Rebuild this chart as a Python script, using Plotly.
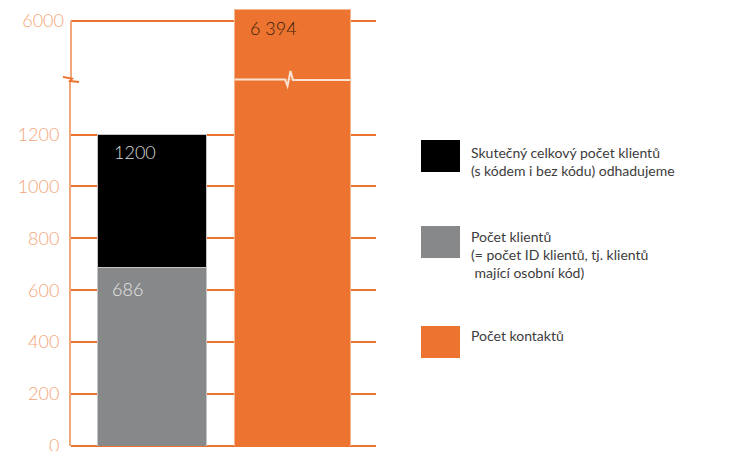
import plotly.graph_objects as go

# ---------------- data ----------------
categories = ["Klienti", "Kontakty"]
clients_with_id = [686]          # gray segment
clients_total = [1200]           # estimated total (top of black segment)
contacts = [6394]                # orange bar
lower_ticks = [0, 200, 400, 600, 800, 1000, 1200]
upper_ticks = [6000]
bar_labels = ["686", "1200", "6 394"]
legend_labels = [
    "Skutečný celkový počet klientů<br>(s kódem i bez kódu) odhadujeme",
    "Počet klientů<br>(= počet ID klientů, tj. klientů<br> mající osobní kód)",
    "Počet kontaktů",
]

# ---------------- style ----------------
ORANGE = "#EC7430"
LIGHT_ORANGE = "#F3A679"
GRAY = "#87888A"
BLACK = "#000000"
FONT = "Lato"

W, H = 729, 451
ML, MR, MT, MB = 71, 353, 9, 5
PW, PH = W - ML - MR, H - MT - MB
BREAK_Y = 79.5  # pixel row of the axis break


def px(x):
    return (x - ML) / PW


def py(y):
    return (H - MB - y) / PH


split = py(BREAK_Y)

fig = go.Figure()
fig.add_bar(x=[categories[0]], y=clients_with_id, width=0.773,
            marker=dict(color=GRAY, line=dict(color="#C4C4C4", width=1)),
            name="with id", xaxis="x", yaxis="y")
fig.add_bar(x=[categories[0]], y=[clients_total[0] - clients_with_id[0]], width=0.773,
            marker=dict(color=BLACK, line=dict(color="#C4C4C4", width=1)),
            name="total", xaxis="x", yaxis="y")
fig.add_bar(x=[categories[1]], y=contacts, width=0.816,
            marker=dict(color=ORANGE, line=dict(color="#F5B58C", width=1)),
            name="contacts", xaxis="x", yaxis="y")
fig.add_bar(x=[categories[1]], y=contacts, width=0.816,
            marker=dict(color=ORANGE, line=dict(color="#F5B58C", width=1)),
            name="contacts", xaxis="x2", yaxis="y2")

tickfont = dict(family=FONT, size=18, color=LIGHT_ORANGE, weight=300)
fig.update_layout(
    width=W, height=H,
    margin=dict(l=ML, r=MR, t=MT, b=MB, autoexpand=False),
    paper_bgcolor="white", plot_bgcolor="white",
    barmode="stack", showlegend=False,
    xaxis=dict(type="category", categoryarray=categories, range=[-0.571, 1.592],
               showticklabels=False, showgrid=False, zeroline=False, showline=False,
               anchor="y", domain=[0, 1], automargin=False),
    xaxis2=dict(matches="x", type="category", showticklabels=False, showgrid=False,
                zeroline=False, showline=False, anchor="y2", domain=[0, 1],
                automargin=False),
    yaxis=dict(domain=[0, split], range=[0, 1412], tickvals=lower_ticks,
               showgrid=True, gridcolor=ORANGE, gridwidth=2,
               zeroline=True, zerolinecolor=ORANGE, zerolinewidth=2,
               showline=True, linecolor=LIGHT_ORANGE, linewidth=2,
               ticks="", tickfont=tickfont, ticklabelstandoff=6,
               ticklabeloverflow="allow", automargin=False, anchor="x"),
    yaxis2=dict(domain=[split, 1], range=[4018, 6394], tickvals=upper_ticks,
                showgrid=True, gridcolor=ORANGE, gridwidth=2, zeroline=False,
                showline=False, ticks="", tickfont=tickfont, ticklabelstandoff=6,
                ticklabeloverflow="allow", automargin=False, anchor="x2"),
)

# upper part of the y axis line (stops at 6000)
fig.add_shape(type="line", xref="paper", yref="y2", x0=0, x1=0, y0=4018, y1=upper_ticks[0],
              line=dict(color=LIGHT_ORANGE, width=2))
# break mark on the axis
fig.add_shape(type="path", xref="paper", yref="paper",
              path=f"M {px(63)} {py(77)} L {px(72)} {py(78.6)} L {px(70)} {py(81)} L {px(79)} {py(82)}",
              line=dict(color=ORANGE, width=2))
# break line through the orange bar
pts = [(235, 79.5), (285, 79.5), (287.5, 86), (290.5, 71), (293, 80), (350, 80)]
path = "M " + " L ".join(f"{px(a)} {py(b)}" for a, b in pts)
fig.add_shape(type="path", xref="paper", yref="paper", path=path,
              line=dict(color="#FBE3D3", width=2))

# labels inside bars
fig.add_annotation(x=categories[0], y=clients_total[0], xref="x", yref="y",
                   text=bar_labels[1], showarrow=False, xanchor="left", yanchor="middle",
                   xshift=-39.5, yshift=-17,
                   font=dict(family=FONT, size=18, color="#D9D9D9", weight=300))
fig.add_annotation(x=categories[0], y=clients_with_id[0], xref="x", yref="y",
                   text=bar_labels[0], showarrow=False, xanchor="left", yanchor="middle",
                   xshift=-41.5, yshift=-21,
                   font=dict(family=FONT, size=18, color="#E6E6E6", weight=300))
fig.add_annotation(x=categories[1], y=contacts[0], xref="x2", yref="y2",
                   text=bar_labels[2], showarrow=False, xanchor="left", yanchor="middle",
                   xshift=-44.5, yshift=-19,
                   font=dict(family=FONT, size=18, color="#3A1E0C", weight=300))

# custom legend
legend_colors = [BLACK, GRAY, ORANGE]
box_tops = [140, 226, 326]
text_centers = [161, 255, 336]
for lab, col, top, tc in zip(legend_labels, legend_colors, box_tops, text_centers):
    fig.add_shape(type="rect", xref="paper", yref="paper",
                  x0=px(421), x1=px(460), y0=py(top), y1=py(top + 32),
                  fillcolor=col, line=dict(width=0))
    fig.add_annotation(xref="paper", yref="paper", x=px(469), y=py(tc),
                       text=lab, showarrow=False, xanchor="left", yanchor="middle",
                       align="left", font=dict(family=FONT, size=14, color="#3C3C3C"))

fig.write_html("out.html", config={"displayModeBar": False},
               post_script="document.body.style.margin='0';document.body.style.overflow='hidden';")
